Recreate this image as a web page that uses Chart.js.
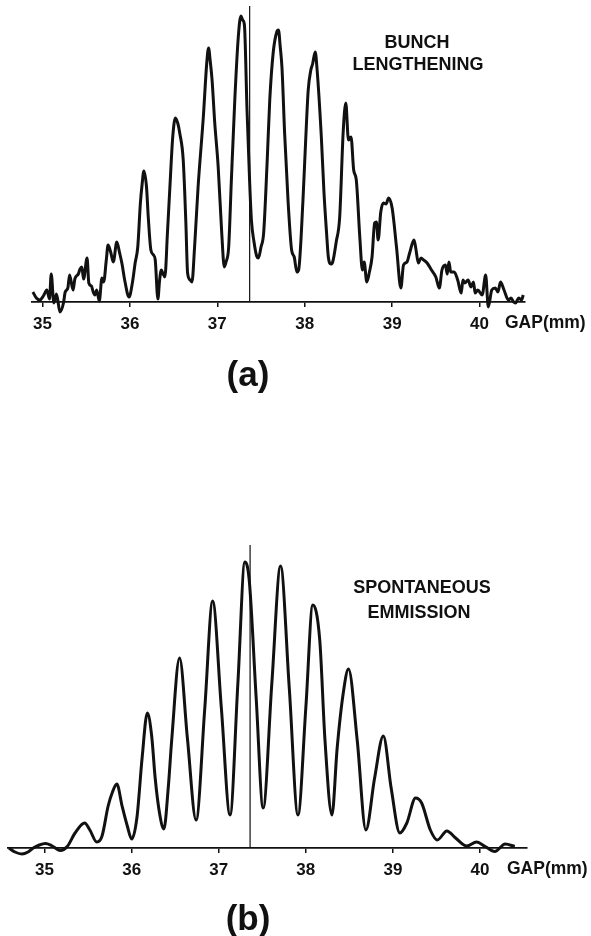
<!DOCTYPE html>
<html><head><meta charset="utf-8">
<script src="https://cdn.jsdelivr.net/npm/chart.js@4.4.1/dist/chart.umd.min.js"></script>
<style>
html,body{margin:0;padding:0;background:#fff;}
body{width:591px;height:936px;position:relative;overflow:hidden;}
canvas{position:absolute;left:0;}
#ca{top:0}
#cb{top:450px}
</style></head><body>
<canvas id="ca" width="591" height="450"></canvas>
<canvas id="cb" width="591" height="486"></canvas>
<script>
// ---- data ----
const xTicks = [35, 36, 37, 38, 39, 40];
const axisLabel = 'GAP(mm)';

// (a) bunch lengthening (measured, noisy)
const gapA = [34.89,34.93,34.97,35.01,35.05,35.08,35.10,35.13,35.16,35.20,35.24,35.26,35.29,35.31,35.35,35.37,35.41,35.43,35.45,35.47,35.51,35.53,35.56,35.58,35.60,35.62,35.65,35.68,35.70,35.73,35.75,35.78,35.81,35.85,35.88,35.91,35.94,35.99,36.03,36.06,36.09,36.12,36.14,36.16,36.19,36.21,36.24,36.27,36.29,36.32,36.34,36.36,36.38,36.40,36.43,36.46,36.49,36.52,36.55,36.57,36.61,36.64,36.66,36.69,36.71,36.74,36.78,36.84,36.88,36.90,36.92,36.94,36.97,37.01,37.05,37.08,37.10,37.13,37.16,37.20,37.24,37.27,37.29,37.31,37.34,37.37,37.39,37.42,37.45,37.47,37.50,37.53,37.57,37.60,37.64,37.68,37.70,37.72,37.74,37.77,37.81,37.85,37.88,37.91,37.93,37.98,38.01,38.04,38.07,38.09,38.12,38.14,38.19,38.22,38.25,38.27,38.30,38.32,38.36,38.40,38.44,38.47,38.50,38.53,38.56,38.59,38.63,38.66,38.68,38.71,38.74,38.77,38.80,38.82,38.84,38.87,38.90,38.93,38.96,39.00,39.05,39.10,39.13,39.17,39.20,39.25,39.27,39.30,39.33,39.36,39.40,39.45,39.50,39.54,39.57,39.61,39.63,39.65,39.67,39.71,39.75,39.79,39.81,39.83,39.87,39.90,39.93,39.95,39.98,40.03,40.07,40.10,40.14,40.18,40.21,40.24,40.28,40.33,40.36,40.39,40.41,40.45,40.48,40.50];
const ampA = [10,4,2,6,12,3,28,-1,8,-10,-1,10,14,27,12,23,28,33,35,23,44,19,16,10,7,12,1,24,20,42,57,50,40,60,50,38,22,5,20,39,55,99,118,131,115,85,52,47,42,3,22,32,28,25,70,119,165,184,178,169,142,80,29,22,20,55,115,185,240,254,240,222,180,135,70,35,40,55,120,202,265,286,282,277,192,120,82,60,46,44,55,69,140,202,250,270,272,255,234,169,100,52,45,30,32,102,160,212,232,238,250,234,165,110,69,45,38,40,60,85,170,199,162,165,132,122,65,32,40,20,30,45,79,80,62,90,99,98,104,94,55,14,37,40,49,62,54,39,44,42,39,32,25,14,32,37,28,40,30,30,22,9,22,19,22,15,20,9,12,7,27,-5,12,14,10,20,12,2,4,0,-1,4,2,7];

// (b) spontaneous emission (smooth)
const gapB = [34.59,34.66,34.74,34.81,34.87,34.94,35.01,35.08,35.18,35.26,35.35,35.46,35.52,35.60,35.66,35.73,35.78,35.83,35.89,35.95,36.00,36.06,36.12,36.18,36.23,36.27,36.32,36.37,36.42,36.46,36.55,36.64,36.74,36.84,36.93,37.03,37.13,37.22,37.30,37.35,37.43,37.51,37.61,37.71,37.81,37.91,38.00,38.08,38.16,38.22,38.30,38.36,38.43,38.49,38.59,38.69,38.79,38.89,38.98,39.08,39.16,39.26,39.33,39.43,39.51,39.62,39.72,39.85,39.96,40.06,40.17,40.29,40.40];
const ampB = [0,-4,-6,-4,0,3,4.5,2.5,-2.5,1.5,15,25,18,6,12,42,56,64,42,22,9,30,90,135,112,70,35,19,60,108,190,110,28,140,247,140,33,165,286,268,150,40,165,282,160,33,140,243,208,108,33,100,155,179,108,18,70,112,60,15,25,50,45,18,8,17,10,2,6,1.5,-3.5,4,1.5];

// reference (vertical) marker
const markerGapA = 37.37, markerTopA = 296;
const markerGapB = 37.36, markerTopB = 303;

// ---- drawing ----
const INK = '#111';
const FONT = '"Liberation Sans", Arial, sans-serif';

const textPlugin = {
  id: 'texts',
  afterDraw(chart, args, opts) {
    const ctx = chart.ctx;
    ctx.save();
    ctx.fillStyle = INK;
    ctx.textBaseline = 'alphabetic';
    for (const t of opts.items) {
      ctx.font = t.font;
      ctx.textAlign = t.align || 'center';
      ctx.fillText(t.text, t.x, t.y);
    }
    ctx.restore();
  }
};

function makeChart(id, gaps, amps, markerGap, markerTop, xmin, xmax, ymax, padding, lw, items) {
  return new Chart(document.getElementById(id), {
    type: 'line',
    data: {
      datasets: [
        { data: gaps.map((g, i) => ({x: g, y: amps[i]})), borderColor: INK, borderWidth: lw,
          pointRadius: 0, cubicInterpolationMode: 'monotone', clip: false, fill: false },
        { data: [{x: markerGap, y: 0}, {x: markerGap, y: markerTop}], borderColor: INK, borderWidth: 1.2,
          pointRadius: 0, clip: false, fill: false }
      ]
    },
    options: {
      responsive: false, animation: false, devicePixelRatio: 1,
      layout: { padding: padding },
      plugins: { legend: {display: false}, tooltip: {enabled: false}, texts: { items: items } },
      scales: {
        x: {
          type: 'linear', min: xmin, max: xmax,
          afterBuildTicks: s => { s.ticks = xTicks.map(v => ({value: v})); },
          afterFit: s => { s.height = 40; },
          grid: { drawOnChartArea: false, drawTicks: true, tickLength: 5, color: INK, lineWidth: 1.5 },
          border: { display: true, color: INK, width: 1.8 },
          ticks: { color: INK, font: {family: FONT, size: 17, weight: 'bold'}, padding: 7,
                   maxRotation: 0, autoSkip: false, callback: v => String(v) }
        },
        y: { display: false, min: 0, max: ymax }
      }
    },
    plugins: [textPlugin]
  });
}

makeChart('ca', gapA, ampA, markerGapA, markerTopA, 34.88, 40.52, 300,
  {left: 32, right: 66, top: 2, bottom: 108}, 3, [
    {text: 'BUNCH', x: 417, y: 48, font: 'bold 18px ' + FONT},
    {text: 'LENGTHENING', x: 418, y: 70, font: 'bold 18px ' + FONT},
    {text: axisLabel, x: 505, y: 328, align: 'left', font: 'bold 17.5px ' + FONT},
    {text: '(a)', x: 248, y: 386, font: 'bold 35px ' + FONT}
  ]);

makeChart('cb', gapB, ampB, markerGapB, markerTopB, 34.58, 40.54, 310,
  {left: 8, right: 64, top: 88, bottom: 48}, 3, [
    {text: 'SPONTANEOUS', x: 422, y: 143, font: 'bold 18px ' + FONT},
    {text: 'EMMISSION', x: 419, y: 168, font: 'bold 18px ' + FONT},
    {text: axisLabel, x: 507, y: 424, align: 'left', font: 'bold 17.5px ' + FONT},
    {text: '(b)', x: 248, y: 480, font: 'bold 35px ' + FONT}
  ]);
</script>
</body></html>
